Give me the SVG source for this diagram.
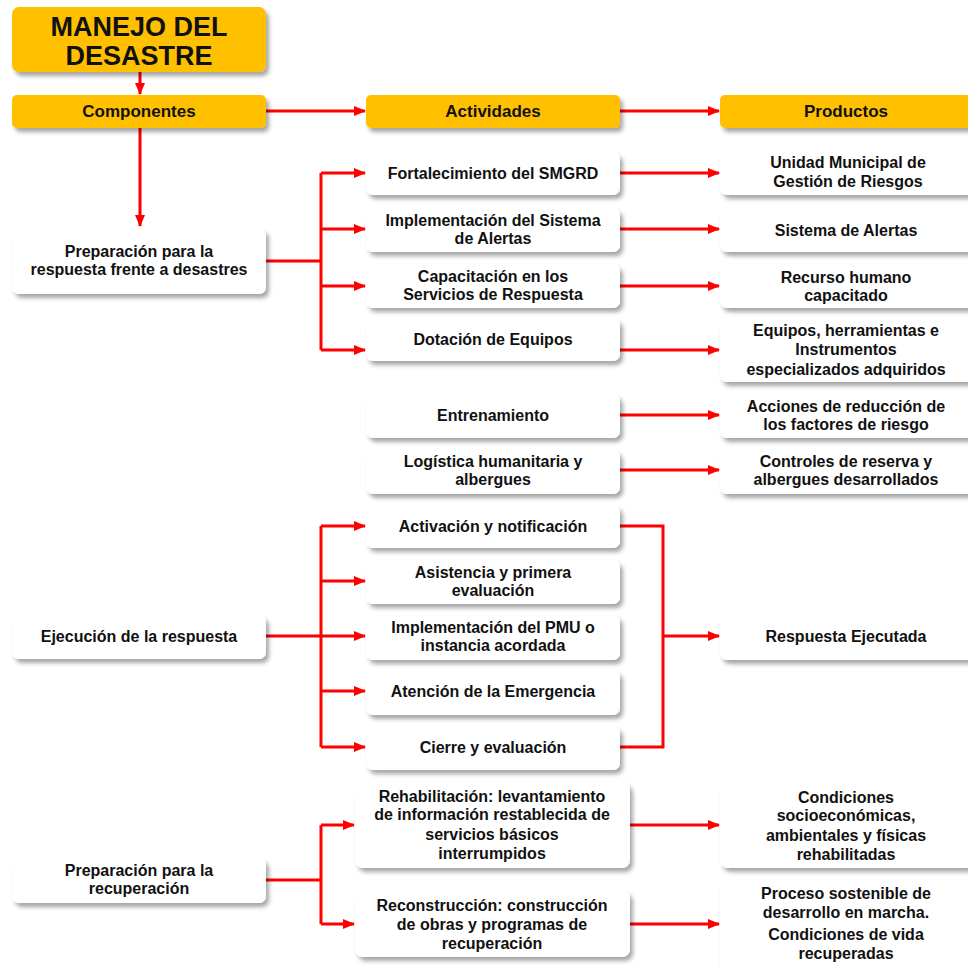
<svg xmlns="http://www.w3.org/2000/svg" width="968" height="967" viewBox="0 0 968 967">
<defs>
<filter id="sh" x="-10%" y="-20%" width="130%" height="160%">
<feDropShadow dx="3" dy="4" stdDeviation="2.2" flood-color="#000" flood-opacity="0.35"/>
</filter>
<marker id="ah" markerWidth="12" markerHeight="10" refX="11" refY="5" orient="auto" markerUnits="userSpaceOnUse">
<path d="M0,0 L12,5 L0,10 Z" fill="#FF0000"/>
</marker>
<style>
.y{fill:#FFC000;filter:url(#sh)}
.w{fill:#FFFFFF;filter:url(#sh)}
text{font-family:"Liberation Sans Narrow","Arial Narrow","Liberation Sans",Arial,sans-serif;font-weight:bold;font-size:16px;fill:#111;text-anchor:middle}
.h{font-size:17px}
.t{font-family:"Liberation Sans",Arial,sans-serif;font-size:27px}
.c{fill:none;stroke:#FF0000;stroke-width:3}
.a{marker-end:url(#ah)}
</style>
</defs>
<rect width="968" height="967" fill="#FFFFFF"/>

<g id="connectors">
<path class="c a" d="M140,72 V94"/>
<path class="c a" d="M266,111 H365"/>
<path class="c a" d="M620,111 H719"/>
<path class="c a" d="M140,128 V226"/>
<path class="c" d="M266,261 H321 M321,173 V350"/>
<path class="c a" d="M321,173 H365"/>
<path class="c a" d="M321,229 H365"/>
<path class="c a" d="M321,286 H365"/>
<path class="c a" d="M321,350 H365"/>
<path class="c a" d="M620,173 H719"/>
<path class="c a" d="M620,229 H719"/>
<path class="c a" d="M620,286 H719"/>
<path class="c a" d="M620,350 H719"/>
<path class="c a" d="M620,415 H719"/>
<path class="c a" d="M620,470 H719"/>
<path class="c" d="M266,636 H321 M321,526 V747"/>
<path class="c a" d="M321,526 H365"/>
<path class="c a" d="M321,581 H365"/>
<path class="c a" d="M321,636 H365"/>
<path class="c a" d="M321,691 H365"/>
<path class="c a" d="M321,747 H365"/>
<path class="c" d="M620,526 H663 V747 H620"/>
<path class="c a" d="M663,636 H719"/>
<path class="c" d="M266,880 H321 M321,825 V924"/>
<path class="c a" d="M321,825 H354"/>
<path class="c a" d="M321,924 H354"/>
<path class="c a" d="M630,825 H719"/>
<path class="c a" d="M630,924 H719"/>
</g>

<g id="title"><rect class="y" x="12" y="7" width="254" height="65" rx="7"/><text class="t" x="139" y="36">MANEJO DEL</text><text class="t" x="139" y="65">DESASTRE</text></g>
<g id="h-componentes"><rect class="y" x="12" y="95" width="254" height="33" rx="5"/><text class="h" x="139" y="117">Componentes</text></g>
<g id="h-actividades"><rect class="y" x="366" y="95" width="254" height="33" rx="5"/><text class="h" x="493" y="117">Actividades</text></g>
<g id="h-productos"><rect class="y" x="720" y="95" width="254" height="33" rx="5"/><text class="h" x="846" y="117">Productos</text></g>

<g id="c-prep-resp"><rect class="w" x="12" y="228" width="254" height="66" rx="7"/><text x="139" y="257">Preparación para la</text><text x="139" y="275">respuesta frente a desastres</text></g>
<g id="c-ejec"><rect class="w" x="12" y="615" width="254" height="44" rx="7"/><text x="139" y="642">Ejecución de la respuesta</text></g>
<g id="c-prep-rec"><rect class="w" x="12" y="858" width="254" height="45" rx="7"/><text x="139" y="876">Preparación para la</text><text x="139" y="894">recuperación</text></g>

<g id="a1"><rect class="w" x="366" y="152" width="254" height="43" rx="7"/><text x="493" y="179">Fortalecimiento del SMGRD</text></g>
<g id="a2"><rect class="w" x="366" y="208" width="254" height="44" rx="7"/><text x="493" y="226">Implementación del Sistema</text><text x="493" y="244">de Alertas</text></g>
<g id="a3"><rect class="w" x="366" y="264" width="254" height="44" rx="7"/><text x="493" y="282">Capacitación en los</text><text x="493" y="300">Servicios de Respuesta</text></g>
<g id="a4"><rect class="w" x="366" y="318" width="254" height="43" rx="7"/><text x="493" y="345">Dotación de Equipos</text></g>
<g id="a5"><rect class="w" x="366" y="394" width="254" height="44" rx="7"/><text x="493" y="421">Entrenamiento</text></g>
<g id="a6"><rect class="w" x="366" y="450" width="254" height="44" rx="7"/><text x="493" y="467">Logística humanitaria y</text><text x="493" y="485">albergues</text></g>
<g id="a7"><rect class="w" x="366" y="505" width="254" height="43" rx="7"/><text x="493" y="532">Activación y notificación</text></g>
<g id="a8"><rect class="w" x="366" y="560" width="254" height="44" rx="7"/><text x="493" y="578">Asistencia y primera</text><text x="493" y="596">evaluación</text></g>
<g id="a9"><rect class="w" x="366" y="615" width="254" height="45" rx="7"/><text x="493" y="633">Implementación del PMU o</text><text x="493" y="651">instancia acordada</text></g>
<g id="a10"><rect class="w" x="366" y="670" width="254" height="45" rx="7"/><text x="493" y="697">Atención de la Emergencia</text></g>
<g id="a11"><rect class="w" x="366" y="726" width="254" height="44" rx="7"/><text x="493" y="753">Cierre y evaluación</text></g>
<g id="a12"><rect class="w" x="355" y="782" width="275" height="86" rx="8"/><text x="492" y="802">Rehabilitación: levantamiento</text><text x="492" y="820">de información restablecida de</text><text x="492" y="840">servicios básicos</text><text x="492" y="859">interrumpidos</text></g>
<g id="a13"><rect class="w" x="355" y="890" width="275" height="67" rx="8"/><text x="492" y="911">Reconstrucción: construcción</text><text x="492" y="930">de obras y programas de</text><text x="492" y="949">recuperación</text></g>

<g id="p1"><rect class="w" x="720" y="150" width="254" height="45" rx="7"/><text x="848" y="168">Unidad Municipal de</text><text x="848" y="187">Gestión de Riesgos</text></g>
<g id="p2"><rect class="w" x="720" y="208" width="254" height="44" rx="7"/><text x="846" y="236">Sistema de Alertas</text></g>
<g id="p3"><rect class="w" x="720" y="264" width="254" height="44" rx="7"/><text x="846" y="283">Recurso humano</text><text x="846" y="301">capacitado</text></g>
<g id="p4"><rect class="w" x="720" y="318" width="254" height="64" rx="7"/><text x="846" y="336">Equipos, herramientas e</text><text x="846" y="355">Instrumentos</text><text x="846" y="375">especializados adquiridos</text></g>
<g id="p5"><rect class="w" x="720" y="394" width="254" height="44" rx="7"/><text x="846" y="412">Acciones de reducción de</text><text x="846" y="430">los factores de riesgo</text></g>
<g id="p6"><rect class="w" x="720" y="450" width="254" height="44" rx="7"/><text x="846" y="467">Controles de reserva y</text><text x="846" y="485">albergues desarrollados</text></g>
<g id="p7"><rect class="w" x="720" y="615" width="254" height="45" rx="7"/><text x="846" y="642">Respuesta Ejecutada</text></g>
<g id="p8"><rect class="w" x="720" y="782" width="254" height="86" rx="8"/><text x="846" y="803">Condiciones</text><text x="846" y="821">socioeconómicas,</text><text x="846" y="841">ambientales y físicas</text><text x="846" y="860">rehabilitadas</text></g>
<g id="p9"><rect class="w" x="720" y="880" width="254" height="95" rx="8"/><text x="846" y="899">Proceso sostenible de</text><text x="846" y="918">desarrollo en marcha.</text><text x="846" y="940">Condiciones de vida</text><text x="846" y="959">recuperadas</text></g>
</svg>
